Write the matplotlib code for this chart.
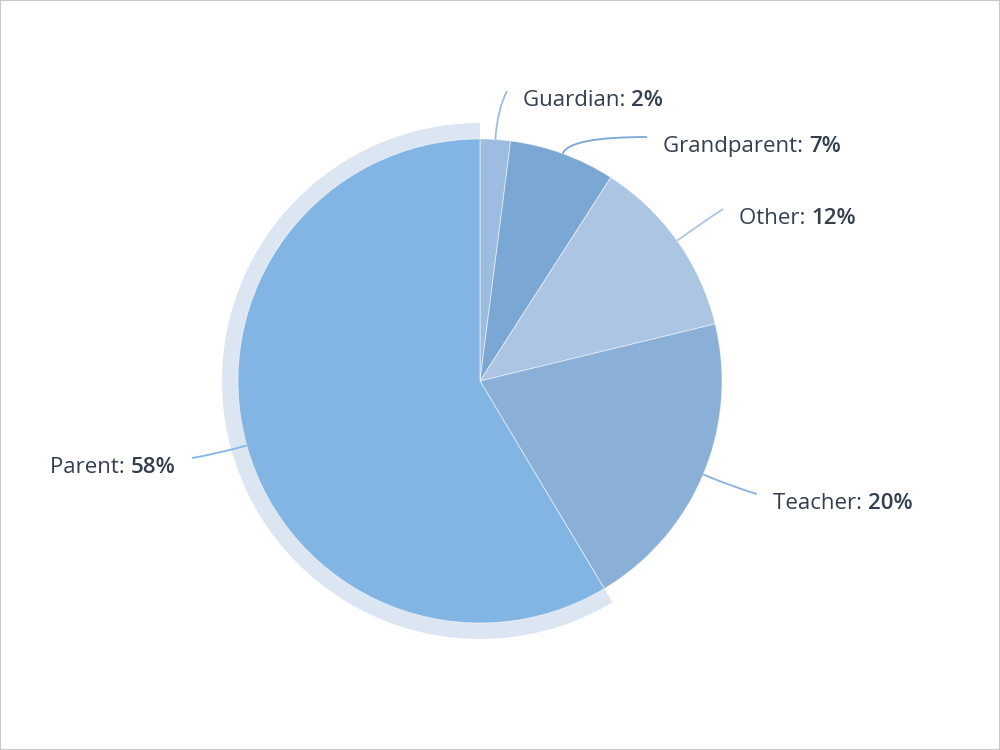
import numpy as np
import matplotlib
matplotlib.use("Agg")
import matplotlib.pyplot as plt
from matplotlib.patches import Wedge, Rectangle, PathPatch
from matplotlib.path import Path

categories = ["Guardian", "Grandparent", "Other", "Teacher", "Parent"]
values = [2, 7, 12, 20, 58]
colors = ["#9dbde0", "#7aa7d3", "#abc5e3", "#8bb0d8", "#82b4e4"]
halo_color = "#dce6f2"
text_color = "#333e4e"

# connector end points (pixel coords, y down) and label side
label_pos = [(507, 91), (647, 137), (723, 209), (757, 494), (192, 458)]
label_side = ["right", "right", "right", "right", "left"]

W, H = 1000, 750
fig = plt.figure(figsize=(10, 7.5), dpi=100)
ax = fig.add_axes([0, 0, 1, 1])

cx, cy, R = 480, H - 381, 242
wedges, _ = ax.pie(values, colors=colors, startangle=90, counterclock=False,
                   center=(cx, cy), radius=R, frame=True,
                   wedgeprops=dict(edgecolor=(1, 1, 1, 0.6), linewidth=0.6))
ax.set_xlim(0, W)
ax.set_ylim(0, H)
ax.set_aspect("equal")
ax.axis("off")

# halo around Parent slice
pw = wedges[4]
halo = Wedge((cx, cy), R + 16, pw.theta1, pw.theta2, width=18,
             facecolor=halo_color, edgecolor="none", zorder=0)
ax.add_patch(halo)

fs = 16
for i, w in enumerate(wedges):
    mid = np.deg2rad((w.theta1 + w.theta2) / 2)
    dx, dy = np.cos(mid), np.sin(mid)
    sx, sy = cx + R * dx, cy + R * dy
    ex, ey = label_pos[i][0], H - label_pos[i][1]
    dist = np.hypot(ex - sx, ey - sy)
    d = abs((ey - sy) / dy) if abs(dy) > 1e-6 else dist
    d = min(d, 0.6 * dist)
    ctrl = (sx + d * dx, sy + d * dy)
    path = Path([(sx, sy), ctrl, (ex, ey)], [Path.MOVETO, Path.CURVE3, Path.CURVE3])
    ax.add_patch(PathPatch(path, facecolor="none", edgecolor=colors[i], lw=1.3, zorder=3))
    val = f"{values[i]}%"
    ty = ey - 15
    if label_side[i] == "right":
        t1 = ax.text(ex + 16, ty, f"{categories[i]}: ", fontsize=fs, family="Open Sans",
                     color=text_color, ha="left", va="baseline")
        ax.annotate(val, xy=(1, 0), xycoords=t1, ha="left", va="bottom",
                    fontsize=fs, family="Open Sans", fontweight="semibold", color=text_color)
    else:
        t1 = ax.text(ex - 17, ty, val, fontsize=fs, family="Open Sans", fontweight="semibold",
                     color=text_color, ha="right", va="baseline")
        ax.annotate(f"{categories[i]}: ", xy=(0, 0), xycoords=t1, ha="right", va="bottom",
                    fontsize=fs, family="Open Sans", color=text_color)

fig.patches.append(Rectangle((0, 0), 1, 1, transform=fig.transFigure, fill=False,
                             edgecolor="#c8c8c8", lw=1.5))
fig.savefig("out.png", dpi=100, facecolor="white")
